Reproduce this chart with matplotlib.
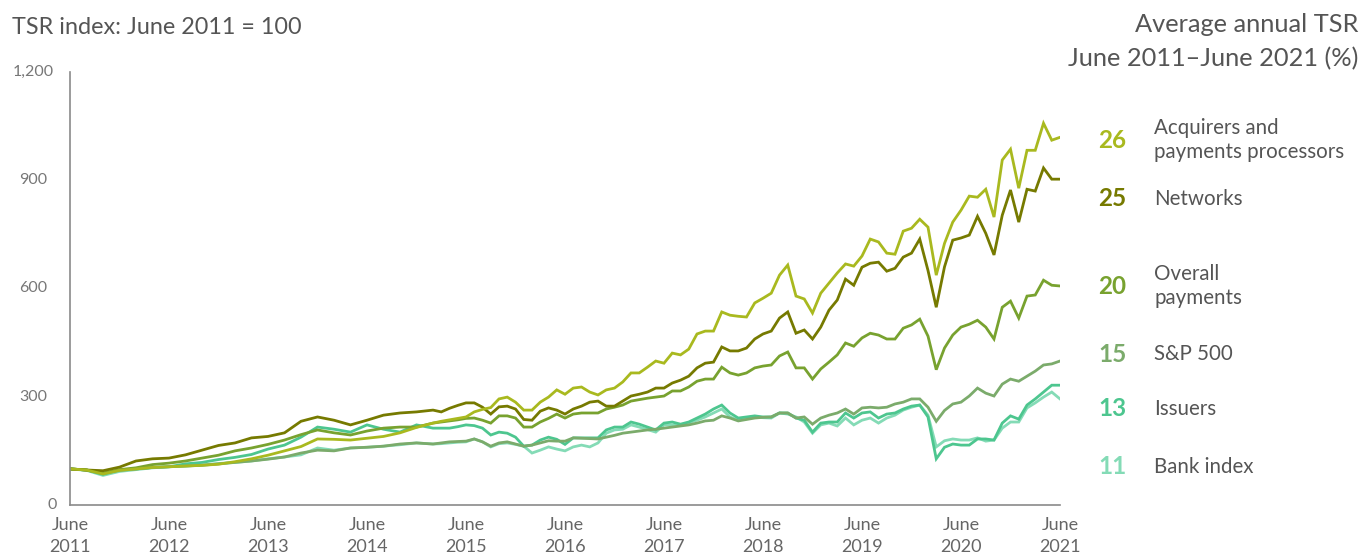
import numpy as np
import matplotlib
matplotlib.use("Agg")
import matplotlib.pyplot as plt
import matplotlib.transforms as mtransforms

plt.rcParams['font.family'] = ['Lato', 'DejaVu Sans']

# months since June 2011 (two-monthly to early 2015, monthly after)
months = list(range(0, 45, 2)) + list(range(45, 121))

acquirers = [100, 97, 86, 96, 100, 104, 106, 108, 110, 113, 120, 128, 138, 150, 162, 183, 182, 180, 185, 190, 200, 215, 227,
             232, 236, 240, 244, 258, 265, 270, 294, 299, 285, 263, 263, 285, 299,
             319, 307, 324, 327, 313, 305, 319, 324, 341, 366, 366, 382, 399, 393, 421, 416, 432, 474, 482, 482,
             535, 526, 523, 521, 560, 573, 587, 637, 665, 579, 571, 532, 587, 615, 643, 668, 662, 690, 737, 729,
             698, 695, 759, 767, 792, 770, 637, 725, 784, 817, 856, 853, 875, 798, 956, 986, 878, 983, 983, 1058, 1011, 1019]
networks = [100, 97, 95, 105, 122, 128, 130, 139, 152, 165, 172, 186, 190, 200, 232, 244, 235, 222, 235, 249, 255, 258, 263,
            258, 268, 276, 283, 283, 271, 252, 272, 274, 266, 237, 235, 260, 269,
            263, 252, 266, 274, 285, 288, 274, 274, 288, 302, 307, 313, 324, 324, 338, 346, 357, 380, 393, 396,
            438, 427, 427, 435, 460, 474, 482, 518, 535, 476, 485, 460, 493, 540, 568, 626, 609, 659, 670, 673,
            648, 656, 687, 698, 737, 650, 548, 660, 734, 740, 748, 800, 753, 693, 803, 873, 784, 875, 870, 934, 903, 903]
overall = [100, 97, 88, 98, 103, 112, 116, 122, 130, 138, 150, 158, 168, 180, 195, 208, 200, 194, 205, 213, 216, 216, 227,
           230, 233, 236, 240, 241, 235, 227, 247, 247, 241, 216, 216, 230, 240,
           252, 241, 252, 255, 255, 255, 266, 271, 277, 288, 292, 296, 299, 302, 316, 316, 327, 343, 349, 349,
           382, 366, 360, 366, 380, 385, 388, 413, 424, 380, 380, 349, 377, 396, 416, 449, 440, 463, 476, 471,
           460, 460, 490, 499, 515, 468, 375, 435, 471, 493, 501, 512, 493, 460, 548, 565, 518, 579, 582, 623, 609, 607]
sp500 = [100, 97, 88, 96, 100, 104, 106, 108, 110, 114, 118, 122, 127, 133, 144, 152, 150, 158, 160, 163, 169, 172, 169,
         172, 175, 176, 177, 183, 175, 163, 172, 175, 169, 163, 166, 172, 178,
         177, 177, 186, 185, 184, 183, 188, 193, 199, 202, 205, 208, 210, 213, 216, 219, 222, 227, 233, 235,
         247, 241, 233, 237, 241, 243, 244, 255, 255, 241, 244, 224, 241, 249, 255, 266, 252, 269, 271, 269,
         271, 280, 285, 294, 294, 271, 232, 262, 280, 285, 302, 324, 310, 302, 335, 349, 343, 357, 371, 388, 391, 399]
issuers = [100, 97, 85, 97, 100, 104, 106, 114, 118, 126, 132, 140, 155, 166, 188, 216, 210, 202, 222, 210, 202, 222, 213,
           213, 213, 217, 222, 220, 213, 194, 202, 199, 188, 163, 166, 180, 188,
           182, 168, 186, 186, 186, 186, 208, 216, 216, 230, 224, 216, 208, 227, 230, 224, 230, 241, 252, 266,
           277, 255, 241, 244, 247, 244, 244, 255, 255, 241, 235, 202, 227, 230, 230, 255, 241, 255, 258, 241,
           252, 255, 266, 274, 277, 244, 128, 160, 169, 166, 166, 183, 183, 180, 227, 247, 238, 277, 294, 313, 332, 332]
bank = [100, 96, 82, 93, 98, 103, 106, 108, 111, 115, 118, 122, 128, 133, 139, 158, 152, 158, 160, 163, 167, 172, 169,
        170, 172, 174, 175, 183, 175, 161, 170, 172, 168, 163, 144, 152, 161,
        155, 150, 161, 166, 161, 172, 199, 208, 210, 222, 216, 209, 202, 222, 222, 222, 228, 235, 244, 255,
        266, 244, 235, 240, 244, 242, 241, 255, 252, 244, 230, 199, 222, 227, 219, 241, 222, 235, 241, 227,
        241, 249, 263, 271, 277, 249, 161, 178, 183, 180, 180, 186, 177, 180, 213, 230, 230, 269, 283, 299, 313, 294]

series_names = ["Acquirers and\npayments processors", "Networks", "Overall\npayments", "S&P 500", "Issuers", "Bank index"]
avg_tsr = ["26", "25", "20", "15", "13", "11"]
colors = ["#a9b91f", "#767a00", "#78a22f", "#7bab6b", "#4dc68f", "#84dbb6"]
label_y = [140, 199, 286, 354, 409, 467]   # pixel rows of legend entries

year_ticks = list(range(0, 121, 12))
year_labels = [f"June\n{2011 + i}" for i in range(11)]
y_ticks = [0, 300, 600, 900, 1200]
y_labels = ["0", "300", "600", "900", "1,200"]

W, H = 1363, 556
fig = plt.figure(figsize=(W / 100, H / 100), dpi=100)
ax = fig.add_axes([70 / W, 1 - 505 / H, 990 / W, 433 / H])

data = [acquirers, networks, overall, sp500, issuers, bank]
for vals, c in reversed(list(zip(data, colors))):
    ax.plot(months, vals, color=c, lw=2.0, solid_joinstyle='miter')

ax.set_xlim(0, 120)
ax.set_ylim(0, 1200)
for s in ['top', 'right']:
    ax.spines[s].set_visible(False)
for s in ['left', 'bottom']:
    ax.spines[s].set_color('#8a8a8a')
    ax.spines[s].set_linewidth(1.2)

ax.set_xticks(year_ticks)
ax.set_xticklabels(year_labels, fontsize=13, color='#666666', linespacing=1.4)
ax.tick_params(axis='x', length=0, pad=9)
ax.set_yticks(y_ticks)
ax.set_yticklabels([])
ax.tick_params(axis='y', length=0)

trans = mtransforms.blended_transform_factory(ax.transAxes, ax.transData)
for v, lab in zip(y_ticks, y_labels):
    off = -18 if v == 0 else -37
    ax.annotate(lab, xy=(0, v), xycoords=trans, xytext=(off * 0.72, 0), textcoords='offset points',
                ha='center', va='center', fontsize=11.5, color='#777777')

fig.text(12 / W, 1 - 28 / H, "TSR index: June 2011 = 100", fontsize=16.8, color='#555555', va='center', ha='left')
fig.text(1358 / W, 1 - 25 / H, "Average annual TSR", fontsize=18.3, color='#555555', va='center', ha='right')
fig.text(1358 / W, 1 - 59 / H, "June 2011\u2013June 2021 (%)", fontsize=18.3, color='#555555', va='center', ha='right')

for num, name, c, yy in zip(avg_tsr, series_names, colors, label_y):
    fig.text(1098 / W, 1 - yy / H, num, fontsize=17.5, fontweight='bold', color=c, va='center', ha='left')
    fig.text(1154 / W, 1 - yy / H, name, fontsize=14.8, color='#555555', va='center', ha='left', linespacing=1.25)

fig.savefig("out.png", dpi=100)
